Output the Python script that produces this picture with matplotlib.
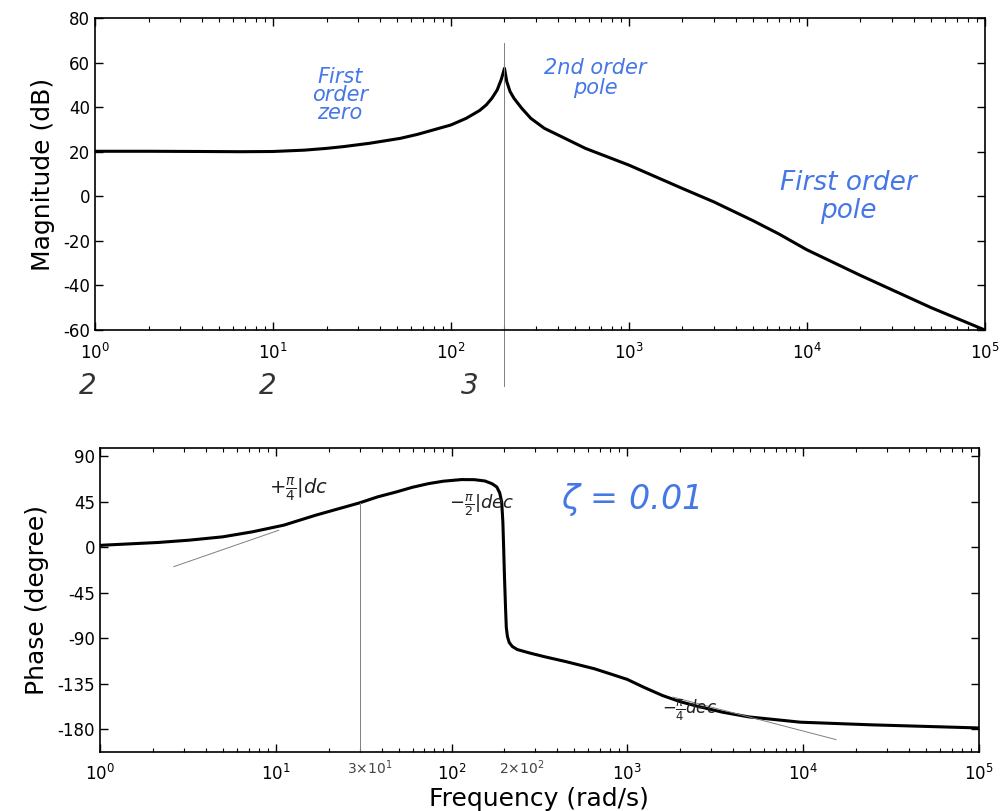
import matplotlib.pyplot as plt
import numpy as np

plt.rcParams['axes.unicode_minus'] = False

# values
mag_freq = [1, 2, 4, 6.6, 10, 15, 20, 25, 35, 52, 65, 79, 100, 122, 145, 158,
            170, 182, 192, 200, 206, 215, 226, 250, 281, 335, 400, 570, 1000,
            2000, 3000, 5000, 7000, 10000, 20000, 50000, 100000]
mag_db = [20.2, 20.2, 20.1, 20.0, 20.1, 20.7, 21.5, 22.3, 23.8, 26.0, 27.8, 29.7,
          32.0, 35.0, 38.5, 41.0, 44.0, 47.7, 52.5, 57.4, 51.5, 47.0, 44.0, 39.5,
          35.0, 30.5, 27.5, 21.5, 14.0, 3.5, -2.5, -11.0, -17.0, -24.0, -35.5,
          -50.0, -60.0]

phase_freq = [1, 1.06, 2.14, 3.23, 5, 7.35, 11.1, 16.9, 22, 29.9, 38, 48.6, 60,
              74, 90, 114, 135, 155, 170, 181, 188, 193, 196, 198, 200, 203,
              205, 208, 213, 222, 237, 280, 337, 450, 651, 800, 1000, 1250,
              1590, 2000, 2500, 3500, 4930, 9660, 24300, 100000]
phase_deg = [2, 2.3, 4.9, 7.2, 10.5, 15.4, 22, 31.9, 37.5, 44, 50, 54.9, 59.5,
             63.1, 65.5, 67.1, 67, 65.7, 63, 59.8, 54, 45, 25, 0, -27, -60,
             -79, -88, -94, -98, -101, -104.5, -108, -113, -120, -125, -130.5,
             -138.5, -146.5, -152.5, -157, -163, -167.6, -172.8, -175.4, -178.5]

zero_freq = 30
resonance_freq = 200
tangent_zero_freq = [2.63, 10.4]
tangent_zero_deg = [-19, 17]
tangent_pole_freq = [1820, 15400]
tangent_pole_deg = [-148, -190]

blue = '#4677e6'
hand = dict(family='DejaVu Sans', style='italic')

fig = plt.figure(figsize=(10.08, 8.11), dpi=100)
ax1 = fig.add_axes([0.0942, 0.5931, 0.8828, 0.3847])
ax2 = fig.add_axes([0.0992, 0.0731, 0.8718, 0.3741])

for ax in (ax1, ax2):
    ax.set_xscale('log')
    ax.set_xlim(1, 1e5)
    ax.tick_params(which='both', direction='in', top=True, right=True, labelsize=12)
    ax.tick_params(which='major', length=6, width=1)
    ax.tick_params(which='minor', length=3, width=0.8)
    ax.tick_params(axis='x', pad=9)
    for s in ax.spines.values():
        s.set_linewidth(1.2)

# magnitude
ax1.plot(mag_freq, mag_db, color='black', lw=2.2)
ax1.set_ylim(-60, 80)
ax1.set_yticks(np.arange(-60, 81, 20))
ax1.set_ylabel('Magnitude (dB)', fontsize=18, labelpad=6)
ax1.plot([resonance_freq, resonance_freq], [-0.18, 0.92], color='gray', lw=0.7,
         transform=ax1.get_xaxis_transform(), clip_on=False)

# phase
ax2.plot(phase_freq, phase_deg, color='black', lw=2.2)
ax2.set_ylim(-202, 98)
ax2.set_yticks([90, 45, 0, -45, -90, -135, -180])
ax2.set_ylabel('Phase (degree)', fontsize=18, labelpad=6)
ax2.set_xlabel('Frequency (rad/s)', fontsize=18, labelpad=2)
ax2.plot([zero_freq, zero_freq], [-202, 44], color='gray', lw=0.7)
ax2.plot(tangent_zero_freq, tangent_zero_deg, color='gray', lw=0.7)
ax2.plot(tangent_pole_freq, tangent_pole_deg, color='gray', lw=0.7)

# handwritten notes
fig.text(340 / 1008, 1 - 95 / 811, 'First\norder\nzero', color=blue, fontsize=15,
         ha='center', va='center', linespacing=0.9, **hand)
fig.text(595 / 1008, 1 - 78 / 811, '2nd order\npole', color=blue, fontsize=15,
         ha='center', va='center', linespacing=1.0, **hand)
fig.text(848 / 1008, 1 - 197 / 811, 'First order\npole', color=blue, fontsize=19,
         ha='center', va='center', linespacing=1.1, **hand)
fig.text(630 / 1008, 1 - 500 / 811, r'$\zeta$ = 0.01', color=blue, fontsize=24,
         ha='center', va='center', **hand)

for x, s in [(88, '2'), (268, '2'), (470, '3')]:
    fig.text(x / 1008, 1 - 386 / 811, s, color='#333333', fontsize=20,
             ha='center', va='center', **hand)

fig.text(298 / 1008, 1 - 490 / 811, r'$+\frac{\pi}{4}$|dc', color='#222222',
         fontsize=14, ha='center', va='center', **hand)
fig.text(482 / 1008, 1 - 505 / 811, r'$-\frac{\pi}{2}$|dec', color='#222222',
         fontsize=13, ha='center', va='center', **hand)
fig.text(690 / 1008, 1 - 710 / 811, r'$-\frac{\pi}{4}$dec', color='#222222',
         fontsize=12, ha='center', va='center', **hand)
fig.text(370 / 1008, 1 - 768 / 811, r'$3{\times}10^1$', color='#444444',
         fontsize=10, ha='center', va='center', **hand)
fig.text(522 / 1008, 1 - 768 / 811, r'$2{\times}10^2$', color='#444444',
         fontsize=10, ha='center', va='center', **hand)

fig.savefig('out.png', dpi=100)
